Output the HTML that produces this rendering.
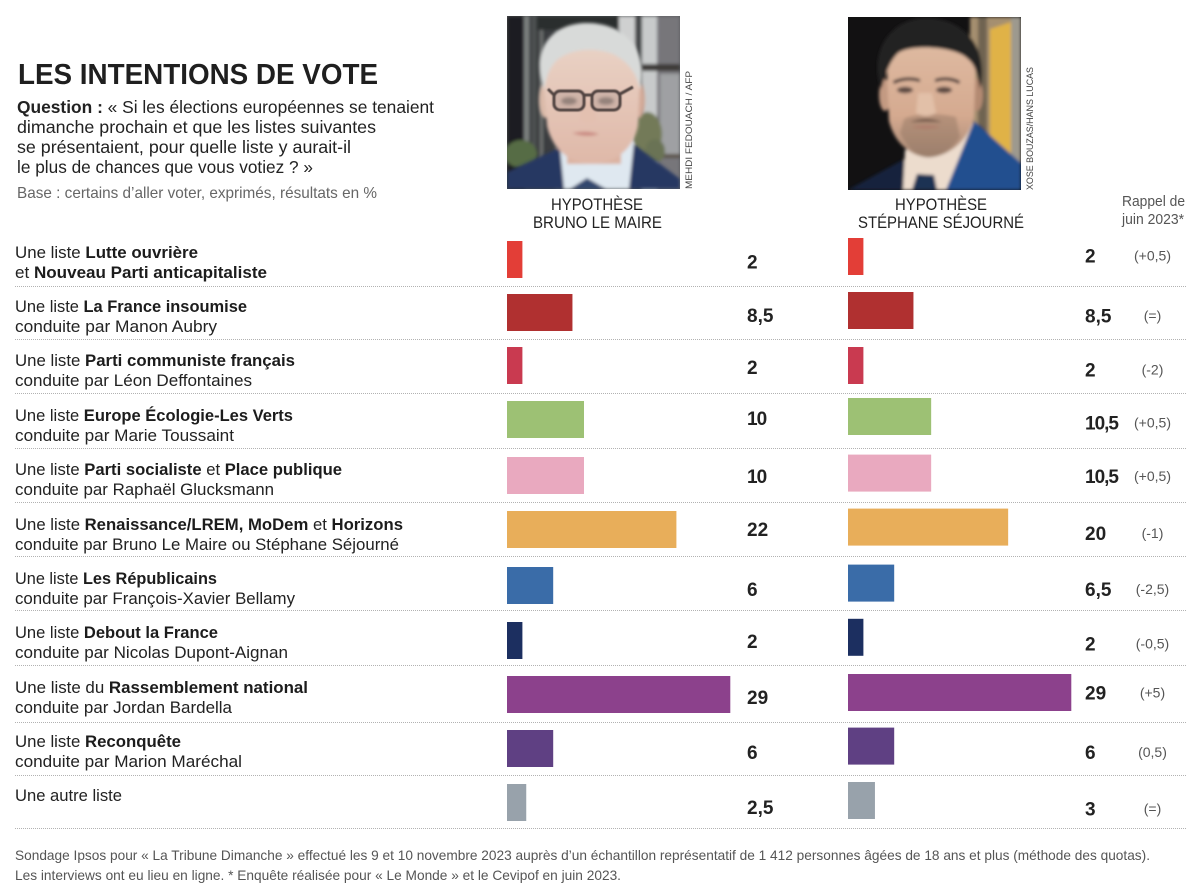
<!DOCTYPE html>
<html lang="fr">
<head>
<meta charset="utf-8">
<title>Les intentions de vote</title>
<style>
html,body{margin:0;padding:0;background:#fff;width:1200px;height:896px;overflow:hidden}
svg{display:block;font-family:"Liberation Sans",sans-serif}
.row-line{font-size:16.5px;fill:#222}
.row-line tspan.b{font-weight:700;fill:#1c1c1c}
.q{font-size:17.5px;fill:#222}
.hyp{font-size:17px;fill:#222}
.foot{font-size:14px;fill:#555}
.grid{stroke:#b2b2b2;stroke-width:1;stroke-dasharray:1 1}
</style>
</head>
<body>
<svg id="chart" xmlns="http://www.w3.org/2000/svg" width="1200" height="896" viewBox="0 0 1200 896">
  <defs>
    <filter id="soft" x="-5%" y="-5%" width="110%" height="110%"><feGaussianBlur stdDeviation="1.6"/></filter>
    <filter id="softer" x="-30%" y="-30%" width="160%" height="160%"><feGaussianBlur stdDeviation="4"/></filter>
    <filter id="fine" x="-10%" y="-10%" width="120%" height="120%"><feGaussianBlur stdDeviation="0.7"/></filter>
    <clipPath id="clip-photo"><rect width="173" height="173"/></clipPath>
    <linearGradient id="skin1" x1="0" y1="0" x2="0" y2="1"><stop offset="0" stop-color="#e9d2c5"/><stop offset="1" stop-color="#dfb8a8"/></linearGradient>
    <linearGradient id="skin2" x1="0" y1="0" x2="0" y2="1"><stop offset="0" stop-color="#deb9a0"/><stop offset="0.62" stop-color="#d5aa90"/><stop offset="1" stop-color="#a98a76"/></linearGradient>
  </defs>

  <!-- Header -->
  <text x="18" y="84" font-size="29" font-weight="700" fill="#1f1f1f" textLength="360" lengthAdjust="spacingAndGlyphs">LES INTENTIONS DE VOTE</text>
  <text class="q" x="17" y="113" textLength="417" lengthAdjust="spacingAndGlyphs"><tspan font-weight="700">Question :</tspan> « Si les élections européennes se tenaient</text>
  <text class="q" x="17" y="133" textLength="359" lengthAdjust="spacingAndGlyphs">dimanche prochain et que les listes suivantes</text>
  <text class="q" x="17" y="153" textLength="334" lengthAdjust="spacingAndGlyphs">se présentaient, pour quelle liste y aurait-il</text>
  <text class="q" x="17" y="173" textLength="296" lengthAdjust="spacingAndGlyphs">le plus de chances que vous votiez ? »</text>
  <text x="17" y="198" font-size="16" fill="#666" textLength="360" lengthAdjust="spacingAndGlyphs">Base : certains d’aller voter, exprimés, résultats en %</text>

  <!-- Portrait 1 -->
  <g transform="translate(507,16)" clip-path="url(#clip-photo)">
    <rect width="173" height="173" fill="#55585a"/>
    <g filter="url(#soft)">
      <rect x="0" y="0" width="18" height="173" fill="#1d1f21"/>
      <rect x="18" y="0" width="30" height="173" fill="#3b3e3f"/>
      <rect x="17" y="0" width="5" height="150" fill="#7d8180"/>
      <rect x="25" y="0" width="4" height="150" fill="#4f5352"/>
      <rect x="33" y="0" width="3" height="150" fill="#6e7170"/>
      <rect x="30" y="0" width="90" height="14" fill="#2c2d2d"/>
      <rect x="112" y="0" width="16" height="130" fill="#cfd0d0"/>
      <rect x="128" y="0" width="8" height="173" fill="#45474a"/>
      <rect x="135" y="0" width="15" height="173" fill="#c8cacb"/>
      <rect x="150" y="0" width="23" height="173" fill="#77767a"/>
      <rect x="135" y="48" width="38" height="7" fill="#3c3a38"/>
      <rect x="135" y="135" width="38" height="7" fill="#5b534a"/>
      <rect x="153" y="58" width="20" height="80" fill="#9fa0a3"/>
      <ellipse cx="14" cy="138" rx="16" ry="14" fill="#566c45"/>
      <ellipse cx="140" cy="118" rx="15" ry="22" fill="#737a58"/>
      <ellipse cx="148" cy="135" rx="10" ry="12" fill="#6b7354"/>
    </g>
    <g filter="url(#soft)">
      <path d="M0 156 L52 132 L66 173 L0 173Z" fill="#263762"/>
      <path d="M173 163 L124 126 L112 173 L173 173Z" fill="#263762"/>
      <path d="M53 132 L127 126 L122 173 L57 173Z" fill="#dfe8f0"/>
      <path d="M63 173 L80 162 L99 173Z" fill="#33466e"/>
      <rect x="60" y="118" width="54" height="30" fill="#dcb4a3"/>
      <ellipse cx="38" cy="84" rx="6" ry="18" fill="#dabaa9"/>
      <ellipse cx="132" cy="84" rx="6" ry="18" fill="#d3aa99"/>
      <path d="M36 58 C36 18 133 18 133 60 L131 110 C125 138 102 148 85 148 C66 148 46 136 40 110Z" fill="url(#skin1)"/>
      <path d="M37 74 C22 30 48 6 82 7 C118 8 142 34 133 74 C130 58 122 46 106 38 C84 30 62 34 50 44 C42 52 39 62 37 74Z" fill="#d8dad9"/>
      <path d="M65 117 Q80 114 92 118 Q80 122 65 117Z" fill="#c98880"/>
      <path d="M76 82 L72 104 Q80 110 90 104 L86 86Z" fill="#e3c0b0"/>
      <ellipse cx="62" cy="85" rx="8" ry="4" fill="#8b7a72"/>
      <ellipse cx="99" cy="85" rx="8" ry="4" fill="#8b7a72"/>
    </g>
    <g filter="url(#fine)" fill="#a58f8c" fill-opacity="0.35" stroke="#4f4340" stroke-width="3">
      <rect x="47" y="75" width="30" height="19" rx="6"/>
      <rect x="85" y="75" width="28" height="19" rx="6"/>
      <path d="M77 79 L85 79" fill="none"/>
      <path d="M113 78 L126 71" fill="none"/>
      <path d="M47 79 L41 73" fill="none"/>
    </g>
  </g>
  <text transform="translate(692,189) rotate(-90)" font-size="9" fill="#444" textLength="118" lengthAdjust="spacingAndGlyphs">MEHDI FEDOUACH / AFP</text>

  <!-- Portrait 2 -->
  <g transform="translate(848,17)" clip-path="url(#clip-photo)">
    <rect width="173" height="173" fill="#121112"/>
    <g filter="url(#soft)">
      <rect x="122" y="0" width="51" height="173" fill="#a58f70"/>
      <rect x="130" y="0" width="9" height="173" fill="#6f6351"/>
      <path d="M142 12 L163 5 L163 142 L142 138Z" fill="#e0b247"/>
      <rect x="163" y="0" width="10" height="173" fill="#9d998e"/>
      <path d="M0 173 L60 140 L132 108 L173 150 L173 173Z" fill="#16233d"/>
      <path d="M57 133 L126 106 L100 173 L55 173Z" fill="#ecdccd"/>
      <path d="M126 104 L173 146 L173 173 L98 173Z" fill="#22508f"/>
      <path d="M64 173 L69 157 L86 158 L89 173Z" fill="#1f3053"/>
      <ellipse cx="37" cy="78" rx="6" ry="16" fill="#c39a82"/>
      <ellipse cx="129" cy="78" rx="6" ry="16" fill="#b48a72"/>
      <path d="M38 30 L128 30 L126 100 C120 128 94 142 78 140 C60 138 46 124 41 104Z" fill="url(#skin2)"/>
      <path d="M56 102 C66 96 94 96 108 100 L112 120 C100 138 84 142 76 140 C66 138 58 128 52 116Z" fill="#8a6f5c" fill-opacity="0.42"/>
      <path d="M33 72 C20 30 46 1 78 1 C112 1 142 26 132 72 C130 60 128 48 120 42 C110 30 64 26 50 36 C40 46 37 60 33 72Z" fill="#232122"/>
      <path d="M45 64 Q58 58 72 62 L72 65 Q58 61 46 67Z" fill="#33282a"/>
      <path d="M87 62 Q100 58 112 64 L111 67 Q100 61 87 65Z" fill="#33282a"/>
      <ellipse cx="57" cy="73" rx="8" ry="3.2" fill="#5b4842"/>
      <ellipse cx="96" cy="73" rx="8" ry="3.2" fill="#5b4842"/>
      <path d="M70 76 L68 96 Q78 102 88 96 L84 76Z" fill="#e2c0a8"/>
      <path d="M62 105 Q78 99 94 105 Q78 104 62 105Z" fill="#5b4338"/>
      <path d="M63 110 Q78 107 93 110 Q78 113 63 110Z" fill="#ae7a6a"/>
    </g>
  </g>
  <text transform="translate(1033,190) rotate(-90)" font-size="9" fill="#444" textLength="123" lengthAdjust="spacingAndGlyphs">XOSE BOUZAS/HANS LUCAS</text>

  <!-- Column headers -->
  <text class="hyp" x="551" y="210" textLength="92" lengthAdjust="spacingAndGlyphs">HYPOTHÈSE</text>
  <text class="hyp" x="533" y="228" textLength="129" lengthAdjust="spacingAndGlyphs">BRUNO LE MAIRE</text>
  <text class="hyp" x="895" y="210" textLength="92" lengthAdjust="spacingAndGlyphs">HYPOTHÈSE</text>
  <text class="hyp" x="858" y="228" textLength="166" lengthAdjust="spacingAndGlyphs">STÉPHANE SÉJOURNÉ</text>
  <text x="1122" y="206" font-size="14.5" fill="#555" textLength="63" lengthAdjust="spacingAndGlyphs">Rappel de</text>
  <text x="1122" y="224" font-size="14.5" fill="#555" textLength="62" lengthAdjust="spacingAndGlyphs">juin 2023*</text>

  <!-- Row labels -->
  <g>
    <text class="row-line" x="15" y="258" textLength="183" lengthAdjust="spacingAndGlyphs">Une liste <tspan class="b">Lutte ouvrière</tspan></text>
    <text class="row-line" x="15" y="278" textLength="252" lengthAdjust="spacingAndGlyphs">et <tspan class="b">Nouveau Parti anticapitaliste</tspan></text>
    <text class="row-line" x="15" y="312" textLength="232" lengthAdjust="spacingAndGlyphs">Une liste <tspan class="b">La France insoumise</tspan></text>
    <text class="row-line" x="15" y="332" textLength="202" lengthAdjust="spacingAndGlyphs">conduite par Manon Aubry</text>
    <text class="row-line" x="15" y="366" textLength="280" lengthAdjust="spacingAndGlyphs">Une liste <tspan class="b">Parti communiste français</tspan></text>
    <text class="row-line" x="15" y="386" textLength="237" lengthAdjust="spacingAndGlyphs">conduite par Léon Deffontaines</text>
    <text class="row-line" x="15" y="421" textLength="278" lengthAdjust="spacingAndGlyphs">Une liste <tspan class="b">Europe Écologie-Les Verts</tspan></text>
    <text class="row-line" x="15" y="441" textLength="219" lengthAdjust="spacingAndGlyphs">conduite par Marie Toussaint</text>
    <text class="row-line" x="15" y="475" textLength="327" lengthAdjust="spacingAndGlyphs">Une liste <tspan class="b">Parti socialiste</tspan> et <tspan class="b">Place publique</tspan></text>
    <text class="row-line" x="15" y="495" textLength="259" lengthAdjust="spacingAndGlyphs">conduite par Raphaël Glucksmann</text>
    <text class="row-line" x="15" y="530" textLength="388" lengthAdjust="spacingAndGlyphs">Une liste <tspan class="b">Renaissance/LREM, MoDem</tspan> et <tspan class="b">Horizons</tspan></text>
    <text class="row-line" x="15" y="550" textLength="384" lengthAdjust="spacingAndGlyphs">conduite par Bruno Le Maire ou Stéphane Séjourné</text>
    <text class="row-line" x="15" y="584" textLength="202" lengthAdjust="spacingAndGlyphs">Une liste <tspan class="b">Les Républicains</tspan></text>
    <text class="row-line" x="15" y="604" textLength="280" lengthAdjust="spacingAndGlyphs">conduite par François-Xavier Bellamy</text>
    <text class="row-line" x="15" y="638" textLength="203" lengthAdjust="spacingAndGlyphs">Une liste <tspan class="b">Debout la France</tspan></text>
    <text class="row-line" x="15" y="658" textLength="273" lengthAdjust="spacingAndGlyphs">conduite par Nicolas Dupont-Aignan</text>
    <text class="row-line" x="15" y="693" textLength="293" lengthAdjust="spacingAndGlyphs">Une liste du <tspan class="b">Rassemblement national</tspan></text>
    <text class="row-line" x="15" y="713" textLength="217" lengthAdjust="spacingAndGlyphs">conduite par Jordan Bardella</text>
    <text class="row-line" x="15" y="747" textLength="166" lengthAdjust="spacingAndGlyphs">Une liste <tspan class="b">Reconquête</tspan></text>
    <text class="row-line" x="15" y="767" textLength="227" lengthAdjust="spacingAndGlyphs">conduite par Marion Maréchal</text>
    <text class="row-line" x="15" y="801" textLength="107" lengthAdjust="spacingAndGlyphs">Une autre liste</text>
  </g>

  <!-- Row separators -->
  <g>
    <line class="grid" x1="15" x2="1187" y1="286.5" y2="286.5"/>
    <line class="grid" x1="15" x2="1187" y1="339.5" y2="339.5"/>
    <line class="grid" x1="15" x2="1187" y1="393.5" y2="393.5"/>
    <line class="grid" x1="15" x2="1187" y1="448.5" y2="448.5"/>
    <line class="grid" x1="15" x2="1187" y1="502.5" y2="502.5"/>
    <line class="grid" x1="15" x2="1187" y1="556.5" y2="556.5"/>
    <line class="grid" x1="15" x2="1187" y1="610.5" y2="610.5"/>
    <line class="grid" x1="15" x2="1187" y1="665.5" y2="665.5"/>
    <line class="grid" x1="15" x2="1187" y1="722.5" y2="722.5"/>
    <line class="grid" x1="15" x2="1187" y1="775.5" y2="775.5"/>
    <line class="grid" x1="15" x2="1187" y1="828.5" y2="828.5"/>
  </g>

  <g id="marks"></g>

  <!-- Footer -->
  <text class="foot" x="15" y="860" textLength="1135" lengthAdjust="spacingAndGlyphs">Sondage Ipsos pour « La Tribune Dimanche » effectué les 9 et 10 novembre 2023 auprès d’un échantillon représentatif de 1 412 personnes âgées de 18 ans et plus (méthode des quotas).</text>
  <text class="foot" x="15" y="880" textLength="606" lengthAdjust="spacingAndGlyphs">Les interviews ont eu lieu en ligne.  * Enquête réalisée pour « Le Monde » et le Cevipof en juin 2023.</text>
</svg>

<script>
// Chart data
const categories = ["Lutte ouvrière / NPA", "La France insoumise", "Parti communiste français", "Europe Écologie-Les Verts", "Parti socialiste / Place publique", "Renaissance / LREM, MoDem, Horizons", "Les Républicains", "Debout la France", "Rassemblement national", "Reconquête", "Autre liste"];
const leMaireValues = [2, 8.5, 2, 10, 10, 22, 6, 2, 29, 6, 2.5];
const sejourneValues = [2, 8.5, 2, 10.5, 10.5, 20, 6.5, 2, 29, 6, 3];
// The printed bars in the second column differ slightly from their printed figures.
const sejourneDrawnDelta = [0, 0, 0, 0.3, 0.3, 0.8, -0.5, 0, 0, 0, 0.5];
const reminderLabels = ["(+0,5)", "(=)", "(-2)", "(+0,5)", "(+0,5)", "(-1)", "(-2,5)", "(-0,5)", "(+5)", "(0,5)", "(=)"];
const partyColors = ["#e33e37", "#b03030", "#c93a50", "#9dc174", "#e9a9bf", "#e8ae5a", "#3a6ca8", "#1c2f60", "#8c418c", "#5f4083", "#98a2ab"];

(function () {
  const NS = "http://www.w3.org/2000/svg";
  const root = document.getElementById("marks");

  // Axis functions
  const PX_PER_POINT = 7.7;
  const BAR_HEIGHT = 37;
  const barWidth = function (v) { return Math.max(0, v) * PX_PER_POINT; };
  const leftNudge = [0, -1.3, -2.6, -2.9, -1.2, -1.5, 0.2, 0.9, 0.6, 0.3, 0];
  const rightNudge = [0, -0.4, 0.2, -3.2, -1, -1.4, 0.2, 0, 0.8, 0, 0];
  const leftLabelShift = [2, 2.5, 1.5, -1.5, 0.5, -0.5, 3.5, 0.5, 2.5, 3.5, 4.5];
  const rightLabelShift = [-1, 5, 4, 6, 3, 6, 6, 6, 0, 6, 8];
  const yLeft = function (i) { return 241 + i * 54.3 + leftNudge[i]; };
  const yRight = function (i) { return 238 + i * 54.4 + rightNudge[i]; };
  const fmt = function (v) { return String(v).replace(".", ","); };
  const tracking = function (s) { return s.indexOf("1") >= 0 ? "-1" : "0"; };

  categories.forEach(function (cat, i) {
    const lb = document.createElementNS(NS, "rect");
    
    
    lb.setAttribute("x", 507);
    lb.setAttribute("y", yLeft(i));
    lb.setAttribute("width", barWidth(leMaireValues[i]));
    lb.setAttribute("height", BAR_HEIGHT);
    lb.setAttribute("fill", partyColors[i]);
    root.appendChild(lb);

    const rb = document.createElementNS(NS, "rect");
    
    
    rb.setAttribute("x", 848);
    rb.setAttribute("y", yRight(i));
    rb.setAttribute("width", barWidth(sejourneValues[i] + sejourneDrawnDelta[i]));
    rb.setAttribute("height", BAR_HEIGHT);
    rb.setAttribute("fill", partyColors[i]);
    root.appendChild(rb);

    const lv = document.createElementNS(NS, "text");
    
    
    lv.setAttribute("x", 747);
    lv.setAttribute("y", yLeft(i) + BAR_HEIGHT / 2 + leftLabelShift[i] + 7);
    lv.setAttribute("font-size", "19");
    lv.setAttribute("font-weight", "700");
    lv.setAttribute("fill", "#222");
    lv.setAttribute("letter-spacing", tracking(fmt(leMaireValues[i])));
    lv.textContent = fmt(leMaireValues[i]);
    root.appendChild(lv);

    const rv = document.createElementNS(NS, "text");
    
    
    rv.setAttribute("x", 1085);
    rv.setAttribute("y", yRight(i) + BAR_HEIGHT / 2 + rightLabelShift[i] + 7);
    rv.setAttribute("font-size", "19");
    rv.setAttribute("font-weight", "700");
    rv.setAttribute("fill", "#222");
    rv.setAttribute("letter-spacing", tracking(fmt(sejourneValues[i])));
    rv.textContent = fmt(sejourneValues[i]);
    root.appendChild(rv);

    const rm = document.createElementNS(NS, "text");
    
    
    rm.setAttribute("x", 1152.5);
    rm.setAttribute("y", yRight(i) + BAR_HEIGHT / 2 + rightLabelShift[i] + 5);
    rm.setAttribute("font-size", "14");
    rm.setAttribute("text-anchor", "middle");
    rm.setAttribute("fill", "#555");
    rm.textContent = reminderLabels[i];
    root.appendChild(rm);
  });
})();
</script>
</body>
</html>
